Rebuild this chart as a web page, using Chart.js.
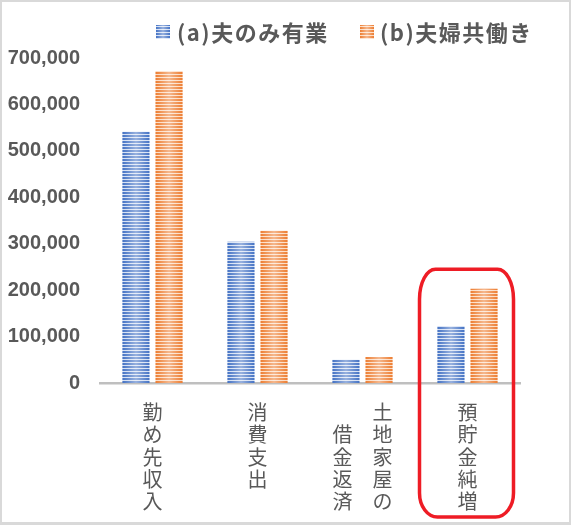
<!DOCTYPE html>
<html>
<head>
<meta charset="utf-8">
<script src="https://cdn.jsdelivr.net/npm/chart.js@4"></script>
<style>
  html, body { margin: 0; padding: 0; background: #fff; }
  #wrap { width: 571px; height: 525px; }
</style>
</head>
<body>
<div id="wrap"><canvas id="kakeiChart" width="571" height="525"></canvas></div>
<script>
// 家計: 夫のみ有業 vs 夫婦共働き (円/月)
const categories = [['勤め先収入'], ['消費支出'], ['土地家屋の', '借金返済'], ['預貯金純増']];
const seriesLabels = ['(a)夫のみ有業', '(b)夫婦共働き'];
const husbandOnly = [541000, 304000, 50000, 123000];
const dualIncome = [672000, 328000, 56000, 203000];
const yTicks = { min: 0, max: 700000, step: 100000 };
const highlightIndex = 3;

const TEXT = '#595959';
const CJK = '"Noto Sans CJK JP", "Noto Sans", sans-serif';

// 縦書きラベル: 列は右から左へ、短い列は下に寄せる
function verticalLines(cols) {
    const rows = Math.max(...cols.map(c => c.length));
    const lines = [];
    for (let r = 0; r < rows; r++) {
        const chars = [];
        for (let c = cols.length - 1; c >= 0; c--) {
            const col = cols[c];
            const i = r - (rows - col.length);
            chars.push(i >= 0 ? col[i] : '\u3000');
        }
        lines.push(chars.join('\u3000'));
    }
    return lines;
}

function stripePattern(dark, light) {
    const c = document.createElement('canvas');
    c.width = 4; c.height = 3;
    const g = c.getContext('2d');
    g.fillStyle = dark; g.fillRect(0, 0, 4, 2);
    g.fillStyle = light; g.fillRect(0, 2, 4, 1);
    return g.createPattern(c, 'repeat');
}

const ctx = document.getElementById('kakeiChart').getContext('2d');
const fills = [stripePattern('#4472c4', '#d5e0f3'), stripePattern('#ed7d31', '#fcdcc4')];

function sheen(c, x0, x1, top, bottom) {
    const gr = c.createLinearGradient(x0, 0, x1, 0);
    gr.addColorStop(0, 'rgba(255,255,255,0)');
    gr.addColorStop(0.5, 'rgba(255,255,255,0.45)');
    gr.addColorStop(1, 'rgba(255,255,255,0)');
    c.fillStyle = gr;
    c.fillRect(x0, top, x1 - x0, bottom - top);
}

const decorations = {
    id: 'decorations',
    afterDatasetsDraw(chart) {
        const c = chart.ctx;
        c.save();
        chart.data.datasets.forEach((ds, di) => {
            chart.getDatasetMeta(di).data.forEach(bar => {
                const p = bar.getProps(['x', 'y', 'base', 'width'], true);
                sheen(c, p.x - p.width / 2, p.x + p.width / 2, p.y, p.base);
            });
        });
        c.restore();
    },
    afterDraw(chart) {
        const c = chart.ctx;
        const { x, y } = chart.scales;
        c.save();

        // legend
        const legendY = 32;
        const items = [{ box: 156, text: 177 }, { box: 360, text: 380 }];
        c.font = 'bold 22px ' + CJK;
        c.letterSpacing = '1.5px';
        c.textBaseline = 'middle';
        items.forEach((it, i) => {
            c.fillStyle = fills[i];
            c.fillRect(it.box, legendY - 7, 14, 14);
            sheen(c, it.box, it.box + 14, legendY - 7, legendY + 7);
            c.fillStyle = TEXT;
            c.fillText(chart.data.datasets[i].label, it.text, legendY + 1);
        });
        c.letterSpacing = '0px';

        // red rounded frame round the highlighted category
        const cx = x.getPixelForValue(highlightIndex);
        const L = cx - 48, R = cx + 46;
        const T = y.getPixelForValue(245000), B = chart.chartArea.bottom + 134;
        const k = 0.5523;
        const trx = 16, try_ = 30, brx = 18, bry = 24;
        c.strokeStyle = '#ee1c25';
        c.lineWidth = 3.5;
        c.beginPath();
        c.moveTo(L + trx, T);
        c.lineTo(R - trx, T);
        c.bezierCurveTo(R - trx + trx * k, T, R, T + try_ - try_ * k, R, T + try_);
        c.lineTo(R, B - bry);
        c.bezierCurveTo(R, B - bry + bry * k, R - brx + brx * k, B, R - brx, B);
        c.lineTo(L + brx, B);
        c.bezierCurveTo(L + brx - brx * k, B, L, B - bry + bry * k, L, B - bry);
        c.lineTo(L, T + try_);
        c.bezierCurveTo(L, T + try_ - try_ * k, L + trx - trx * k, T, L + trx, T);
        c.closePath();
        c.stroke();

        // outer frame
        c.fillStyle = '#d9d9d9';
        c.fillRect(0, 0, chart.width, 2);
        c.fillRect(0, 0, 2, chart.height);
        c.fillRect(chart.width - 2, 0, 2, chart.height);
        c.fillRect(0, chart.height - 3, chart.width, 3);
        c.restore();
    }
};

new Chart(ctx, {
    type: 'bar',
    data: {
        labels: categories.map(verticalLines),
        datasets: [{
            label: seriesLabels[0],
            data: husbandOnly,
            backgroundColor: fills[0],
            borderWidth: 0
        }, {
            label: seriesLabels[1],
            data: dualIncome,
            backgroundColor: fills[1],
            borderWidth: 0
        }]
    },
    options: {
        responsive: false,
        animation: false,
        locale: 'en-US',
        layout: { padding: { top: 58, right: 51, left: 0, bottom: 0 } },
        datasets: { bar: { categoryPercentage: 0.63, barPercentage: 0.82 } },
        plugins: { legend: { display: false }, tooltip: { enabled: false } },
        scales: {
            x: {
                grid: { display: false, drawTicks: false },
                border: { display: true, color: '#bfbfbf', width: 2.5 },
                ticks: {
                    autoSkip: false, maxRotation: 0, minRotation: 0,
                    padding: 18, color: TEXT,
                    font: { family: CJK, size: 20, lineHeight: 1.12 }
                },
                afterFit(scale) { scale.height = 142; }
            },
            y: {
                min: yTicks.min, max: yTicks.max,
                grid: { display: false, drawTicks: false },
                border: { display: false },
                ticks: {
                    stepSize: yTicks.step, padding: 20, color: TEXT,
                    font: { family: '"Liberation Sans", Arial, sans-serif', size: 20, weight: 'bold' }
                },
                afterFit(scale) { scale.width = 100; }
            }
        }
    },
    plugins: [decorations]
});
</script>
</body>
</html>
